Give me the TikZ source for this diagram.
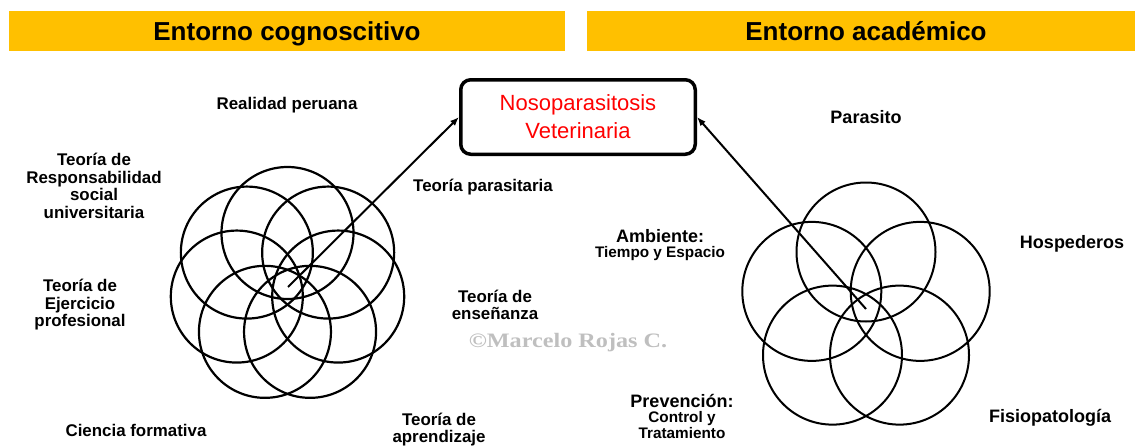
\documentclass[tikz,border=0pt]{standalone}
\usepackage{fontspec}
\setmainfont{Liberation Sans}
\newfontfamily\wmfont{Liberation Serif}
\usetikzlibrary{arrows.meta}
\definecolor{hdr}{HTML}{FFC000}
\definecolor{wmgray}{HTML}{BFBFBF}
\definecolor{boxred}{HTML}{FF0000}
\tikzset{
 hdrbar/.style={fill=hdr, draw=none, inner sep=0pt},
 hdrtext/.style={font=\fontsize{26}{30}\selectfont\bfseries, inner sep=0pt, anchor=base},
 lbl/.style={font=\fontsize{16.9}{17.5}\selectfont\bfseries, align=center, inner sep=0pt},
 rlbl/.style={font=\fontsize{18}{19}\selectfont\bfseries, align=center, inner sep=0pt},
 slbl/.style={font=\fontsize{15.3}{16}\selectfont\bfseries, align=center, inner sep=0pt},
 lring/.style={draw, line width=2.2pt},
 rring/.style={draw, line width=2pt},
 conn/.style={line width=2pt, -{Latex[length=9pt,width=7pt]}},
}
\begin{document}
\begin{tikzpicture}[x=1pt,y=-1pt]
\useasboundingbox (0,0) rectangle (1135,447);
% header bars
\node[hdrbar, minimum width=556pt, minimum height=40pt] (barL) at (287,31) {};
\node[hdrbar, minimum width=548pt, minimum height=40pt] (barR) at (861,31) {};
\node[hdrtext] (hL) at (287,40.5) {Entorno cognoscitivo};
\node[hdrtext] (hR) at (866,40.5) {Entorno académico};
% central box
\node[draw, line width=3.5pt, rounded corners=10pt, minimum width=234.5pt, minimum height=74.5pt,
      align=center, text=boxred, font=\fontsize{22}{28}\selectfont] (box) at (578,117)
      {\rule{0pt}{4pt}Nosoparasitosis\\Veterinaria};
% left cluster: 7 circles
\foreach \k in {0,...,6}{
  \draw[lring] ([shift={(287.5,285)}]{-90+\k*360/7}:52) circle[radius=66pt];
}
% right cluster: 5 circles
\foreach \k in {0,...,4}{
  \draw[rring] ([shift={(866,309)}]{-90+\k*72}:57) circle[radius=69.5pt];
}
\coordinate (lc) at (288,287);
\coordinate (rc) at (866,309);
\draw[conn] (lc) -- (box.west);
\draw[conn] (rc) -- (box.east);
% left labels
\node[lbl] (rp) at (287,105) {Realidad peruana};
\node[lbl] (rsu) at (94,186) {Teoría de\\Responsabilidad\\social\\universitaria};
\node[lbl] (tp) at (483,187) {Teoría parasitaria};
\node[lbl] (tep) at (80,305) {Teoría de\\Ejercicio\\profesional};
\node[lbl] (ten) at (495,305) {Teoría de\\enseñanza};
\node[lbl] (cf) at (136,430) {Ciencia formativa};
\node[lbl] (tap) at (439,429.5) {Teoría de\\aprendizaje};
% watermark
\node[inner sep=0pt, text=wmgray, font=\wmfont\bfseries\fontsize{20.5}{22}\selectfont] (wm) at (568,343)
  {\scalebox{1.18}[1]{©Marcelo Rojas C.}};
% right labels
\node[rlbl] (par) at (866,117) {Parasito};
\node[rlbl] (amb) at (660,236) {Ambiente:};
\node[slbl] (tye) at (660,254) {Tiempo y Espacio};
\node[rlbl] (hos) at (1072,244) {Hospederos};
\node[rlbl] (pre) at (682,401) {Prevención:};
\node[slbl] (cyt) at (682,425.5) {Control y\\Tratamiento};
\node[rlbl] (fis) at (1050,418) {Fisiopatología};
\end{tikzpicture}
\end{document}
